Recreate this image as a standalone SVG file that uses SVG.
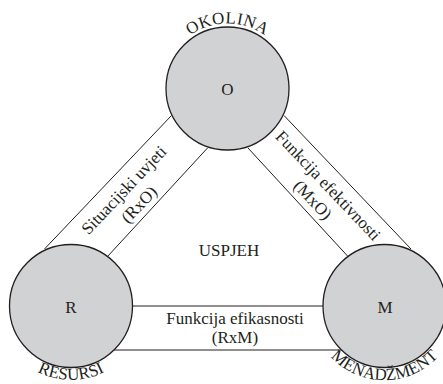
<svg xmlns="http://www.w3.org/2000/svg" width="443" height="384" viewBox="0 0 443 384">
<style>
.ln{stroke:#231f20;stroke-width:1;fill:none}
.node{fill:#d1d2d4;stroke:#231f20;stroke-width:1.3}
.t{font-family:"Liberation Serif","Times New Roman",serif;font-size:17px;fill:#231f20;text-anchor:middle}
.arc{letter-spacing:0.4px}
</style>
<defs>
<path id="arcO" d="M166.4,66.3 A65,65 0 0 1 288.6,66.3"/>
<path id="arcR" d="M1.5,331.3 A74,74 0 0 0 140.5,331.3"/>
<path id="arcM" d="M311.6,318.8 A74,74 0 0 0 457.4,318.8"/>
</defs>
<rect width="443" height="384" fill="#ffffff"/>
<g id="connectors">
<line class="ln" x1="44.5" y1="249" x2="171.5" y2="115.5"/>
<line class="ln" x1="107.5" y1="256.5" x2="207.5" y2="148"/>
<line class="ln" x1="411" y1="249" x2="284" y2="115.5"/>
<line class="ln" x1="348" y1="256.5" x2="248" y2="148"/>
<line class="ln" x1="128" y1="306" x2="328" y2="306"/>
<line class="ln" x1="110" y1="350" x2="345" y2="350"/>
</g>
<g id="label-RxO" transform="translate(127.9,194) rotate(-46.5)">
<text class="t" x="0" y="0">Situacijski uvjeti</text>
<text class="t" x="0" y="21">(RxO)</text>
</g>
<g id="label-MxO" transform="translate(324,189.4) rotate(46.5)">
<text class="t" x="0" y="0">Funkcija efektivnosti</text>
<text class="t" x="0" y="21">(MxO)</text>
</g>
<g id="label-RxM">
<text class="t" x="235" y="324">Funkcija efikasnosti</text>
<text class="t" x="235" y="343">(RxM)</text>
</g>
<g id="center">
<text class="t" x="229" y="256">USPJEH</text>
</g>
<g id="node-O">
<circle class="node" cx="227.5" cy="88.5" r="61.5"/>
<text class="t" x="227.5" y="94.5">O</text>
<text class="t arc"><textPath href="#arcO" startOffset="50%">OKOLINA</textPath></text>
</g>
<g id="node-R">
<circle class="node" cx="71" cy="306" r="61.5"/>
<text class="t" x="71" y="312.5">R</text>
<text class="t"><textPath href="#arcR" startOffset="50%">RESURSI</textPath></text>
</g>
<g id="node-M">
<circle class="node" cx="384.5" cy="306" r="61.5"/>
<text class="t" x="385" y="312.5">M</text>
<text class="t"><textPath href="#arcM" startOffset="50%">MENADŽMENT</textPath></text>
</g>
</svg>
